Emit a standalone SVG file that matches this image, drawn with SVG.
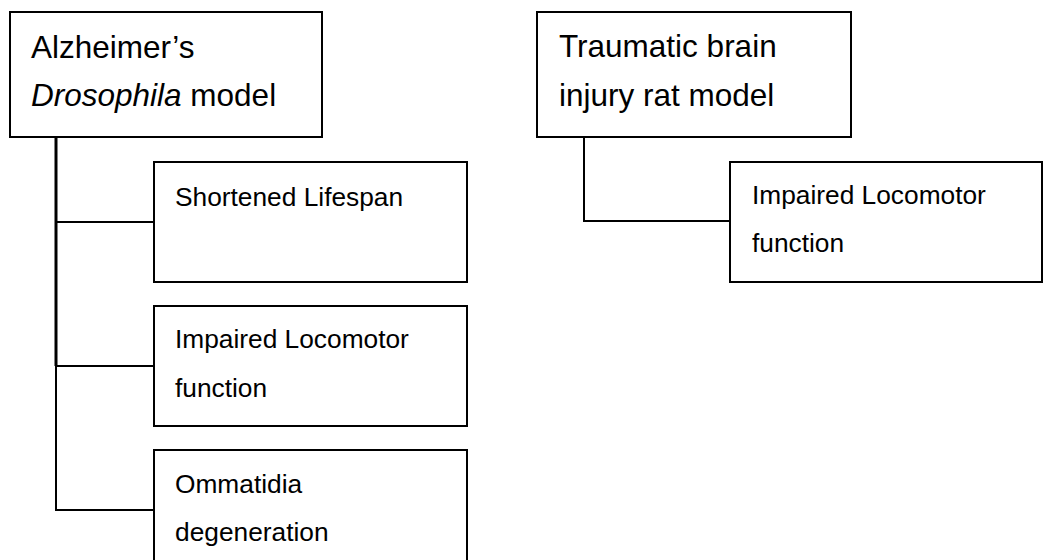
<svg xmlns="http://www.w3.org/2000/svg" width="1050" height="560" viewBox="0 0 1050 560">
<style>
.box{fill:#fff;stroke:#000;stroke-width:2}
.t{font-family:"Liberation Sans",Arial,sans-serif;font-size:31.5px;fill:#000}
.c{font-family:"Liberation Sans",Arial,sans-serif;font-size:26.3px;fill:#000}
.ln{fill:none;stroke:#000;stroke-width:2}
</style>
<rect width="1050" height="560" fill="#fff"/>
<g id="connectors">
<path class="ln" d="M56 137V366" style="stroke-width:3"/>
<path class="ln" d="M56 366V510H154"/>
<path class="ln" d="M56 222H154M56 366H154"/>
<path class="ln" d="M584 137V221H730"/>
</g>
<g id="alz">
<rect class="box" x="10" y="12" width="312" height="125"/>
<text class="t" x="31" y="58">Alzheimer’s</text>
<text class="t" x="31" y="106"><tspan font-style="italic">Drosophila</tspan> model</text>
</g>
<g id="lifespan">
<rect class="box" x="154" y="162" width="313" height="120"/>
<text class="c" x="175" y="206">Shortened Lifespan</text>
</g>
<g id="locomotor1">
<rect class="box" x="154" y="306" width="313" height="120"/>
<text class="c" x="175" y="348">Impaired Locomotor</text>
<text class="c" x="175" y="397">function</text>
</g>
<g id="ommatidia">
<rect class="box" x="154" y="450" width="313" height="130"/>
<text class="c" x="175" y="493">Ommatidia</text>
<text class="c" x="175" y="541">degeneration</text>
</g>
<g id="tbi">
<rect class="box" x="537" y="12" width="314" height="125"/>
<text class="t" x="559" y="57">Traumatic brain</text>
<text class="t" x="559" y="106">injury rat model</text>
</g>
<g id="locomotor2">
<rect class="box" x="730" y="162" width="312" height="120"/>
<text class="c" x="752" y="204">Impaired Locomotor</text>
<text class="c" x="752" y="252">function</text>
</g>
</svg>
